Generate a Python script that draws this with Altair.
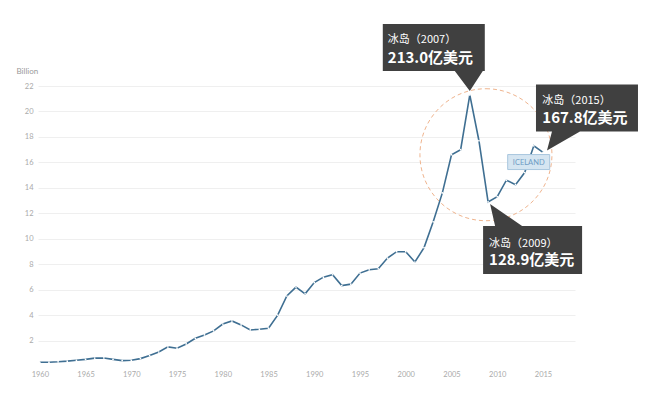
import altair as alt
import pandas as pd

# ---------------- data ----------------
years = list(range(1960, 2016))
gdp_billion = [
    0.29, 0.30, 0.33, 0.38, 0.45, 0.52, 0.62, 0.63, 0.52, 0.42,   # 1960-69
    0.45, 0.58, 0.82, 1.10, 1.50, 1.40, 1.73, 2.18, 2.44, 2.76,   # 1970-79
    3.30, 3.54, 3.23, 2.83, 2.89, 2.97, 4.00, 5.50, 6.20, 5.67,   # 1980-89
    6.56, 6.98, 7.17, 6.32, 6.43, 7.30, 7.56, 7.64, 8.48, 8.98,   # 1990-99
    8.98, 8.17, 9.30, 11.33, 13.60, 16.60, 17.00, 21.30, 17.70, 12.89,  # 2000-09
    13.30, 14.60, 14.25, 15.20, 17.30, 16.78,                     # 2010-15
]
x_ticks = list(range(1960, 2016, 5))
y_ticks = [2, 4, 6, 8, 10, 12, 14, 16, 18, 20, 22]
y_title = "Billion"
series_label = "ICELAND"

callout_years = [2007, 2015, 2009]
callout_line1 = ["冰岛（2007）", "冰岛（2015）", "冰岛（2009）"]
callout_line2 = ["213.0亿美元", "167.8亿美元", "128.9亿美元"]

# ---------------- styles / annotation geometry (pixel offsets from anchor point) ----------------
callout_shapes = [
    "M-87,-71H15V-24H13L0,-4L-15,-24H-87Z",
    "M-7,-68H95V-21H37L4,-2L9,-21H-7Z",
    "M-5,24H7L2,2L34,24H94V72H-5Z",
]
callout_text_offsets = [(-82, -51.6, -32.2), (-0.7, -48.4, -29.4), (1, 44.8, 63.1)]
circle_anchor_year = 2008
circle_path = "M7,-52A66,66 0 1,1 7,80A66,66 0 1,1 7,-52Z"
label_anchor_year = 2013
label_box_path = "M-17,-18H25V-3H-17Z"

LINE_COLOR = "#3f6f92"
BOX_COLOR = "#404040"
FONT = "Lato"
CJK = "Noto Sans CJK SC"

df = pd.DataFrame({"year": years, "gdp": gdp_billion})
base = alt.Chart(df)

xenc = alt.X(
    "year:Q",
    title=None,
    scale=alt.Scale(domain=[1959.8, 2018.5], nice=False, zero=False),
    axis=alt.Axis(values=x_ticks, format="d", grid=False, domain=False, ticks=False,
                  labelFontSize=7.5, labelColor="#aaaaaa", labelPadding=4, labelFont=FONT),
)
yenc = alt.Y(
    "gdp:Q",
    title=y_title,
    scale=alt.Scale(domain=[0, 22], nice=False),
    axis=alt.Axis(values=y_ticks, grid=True, gridColor="#efefef", gridWidth=1,
                  domain=False, ticks=False, labelFontSize=7.5, labelColor="#aaaaaa",
                  labelPadding=5, labelFont=FONT,
                  titleAngle=0, titleAlign="left", titleBaseline="alphabetic",
                  titleX=-22, titleY=-13, titleFontSize=8, titleFontWeight="normal",
                  titleColor="#999999", titleFont=FONT),
)

circle = base.transform_filter(alt.datum.year == circle_anchor_year).mark_point(
    shape=circle_path, size=4, filled=False, color="#efb48e", strokeWidth=1,
    strokeDash=[4, 3], opacity=1
).encode(x=xenc, y=yenc)

line = base.mark_line(color=LINE_COLOR, strokeWidth=1.6).encode(x=xenc, y=yenc)
dots = base.mark_point(filled=True, color="white", size=3, opacity=1).encode(x=xenc, y=yenc)

label_box = base.transform_filter(alt.datum.year == label_anchor_year).mark_point(
    shape=label_box_path, size=4, filled=True, fill="#d5e5f1", stroke="#a9c7de",
    strokeWidth=1, opacity=1
).encode(x=xenc, y=yenc)
label_text = base.transform_filter(alt.datum.year == label_anchor_year).mark_text(
    text=series_label, dx=4, dy=-10, align="center", baseline="middle",
    fontSize=7.5, color="#6f9cc4", font=FONT
).encode(x=xenc, y=yenc)

layers = [circle, line, dots, label_box, label_text]
for yr, l1, l2, shp, (dx, dy1, dy2) in zip(callout_years, callout_line1, callout_line2,
                                           callout_shapes, callout_text_offsets):
    sub = base.transform_filter(alt.datum.year == yr)
    layers.append(sub.mark_point(shape=shp, size=4, filled=True, color=BOX_COLOR,
                                 opacity=1, strokeWidth=0).encode(x=xenc, y=yenc))
    layers.append(sub.mark_text(text=l1, dx=dx, dy=dy1, align="left", baseline="alphabetic",
                                fontSize=11, color="white", font=CJK).encode(x=xenc, y=yenc))
    layers.append(sub.mark_text(text=l2, dx=dx, dy=dy2, align="left", baseline="alphabetic",
                                fontSize=15, fontWeight="bold", color="white",
                                font=CJK).encode(x=xenc, y=yenc))

chart = alt.layer(*layers).properties(
    width=537, height=280, autosize="none",
    padding={"left": 30, "top": 78, "right": 66, "bottom": 21},
    background="white",
).configure_view(stroke=None)

chart.save("out.html", embed_options={"renderer": "svg", "actions": False})
